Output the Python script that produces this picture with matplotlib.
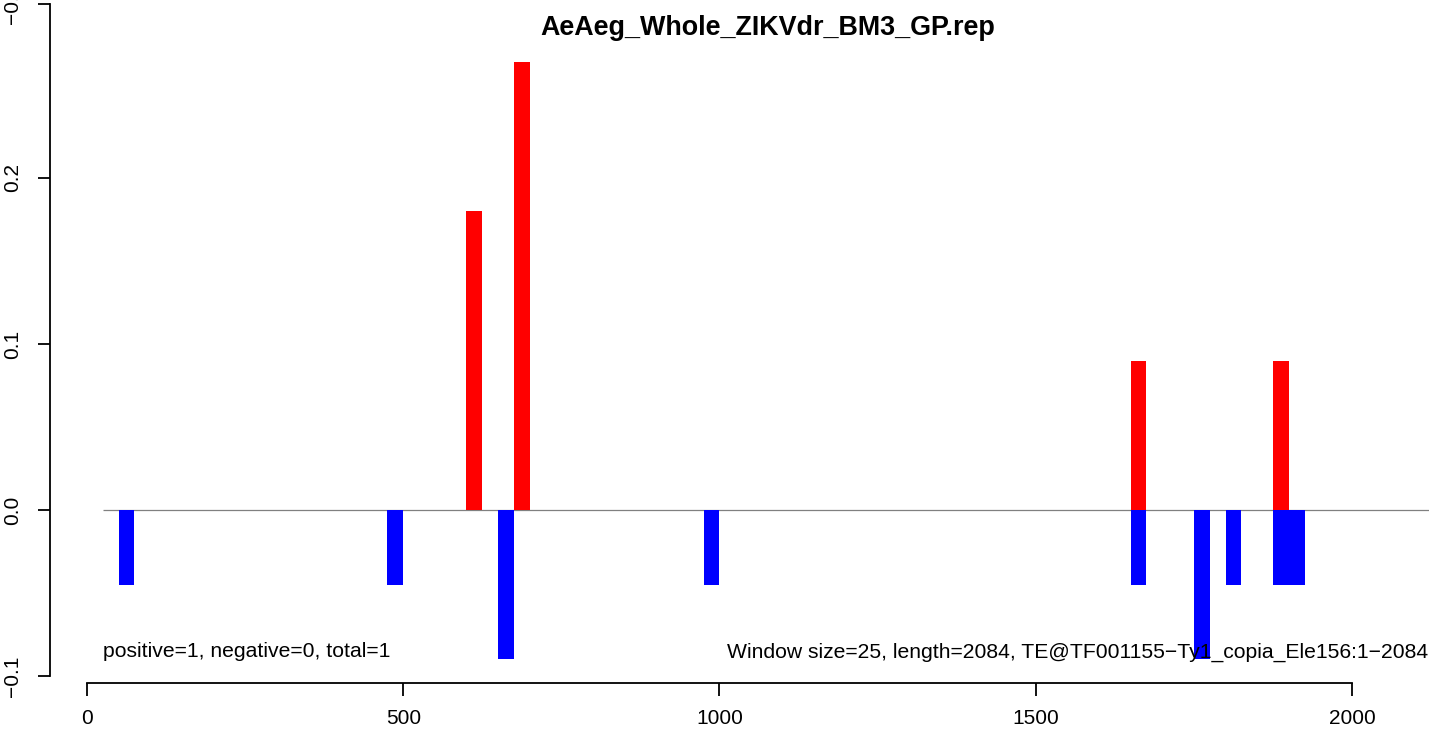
import matplotlib
matplotlib.use("Agg")
import matplotlib.pyplot as plt

plt.rcParams['font.family'] = ['Liberation Sans', 'DejaVu Sans']

title = "AeAeg_Whole_ZIKVdr_BM3_GP.rep"

# window start positions (window size 25) and values
pos_start = [600, 675, 1650, 1875]
pos_val = [0.18, 0.27, 0.09, 0.09]
neg_start = [50, 475, 650, 975, 1650, 1750, 1800, 1875, 1900]
neg_val = [-0.045, -0.045, -0.09, -0.045, -0.045, -0.09, -0.045, -0.045, -0.045]
win = 25

xticks = [0, 500, 1000, 1500, 2000]
yticks = [-0.1, 0.0, 0.1, 0.2, 0.305]
ylabels = ["\u22120.1", "0.0", "0.1", "0.2", "\u22120.3"]

left_note = "positive=1, negative=0, total=1"
right_note = "Window size=25, length=2084, TE@TF001155\u2212Ty1_copia_Ele156:1\u22122084"

fig = plt.figure(figsize=(14.29, 7.31), dpi=100)
ax = fig.add_axes([0, 0, 1, 1])
ax.set_xlim(-137.5, 2121.7)
ax.set_ylim(-0.1331, 0.3072)

ax.hlines(0, 25, 2300, color="#808080", lw=0.9, zorder=1)
ax.bar(pos_start, pos_val, width=win, align="edge", color="red", zorder=2)
ax.bar(neg_start, neg_val, width=win, align="edge", color="blue", zorder=2)

for s in ["top", "right"]:
    ax.spines[s].set_visible(False)
ax.spines["left"].set_position(("data", -58.5))
ax.spines["left"].set_bounds(-0.1, 0.305)
ax.spines["bottom"].set_position(("data", -0.1042))
ax.spines["bottom"].set_bounds(0, 2000)
for s in ["left", "bottom"]:
    ax.spines[s].set_linewidth(1.3)

ax.set_xticks(xticks)
ax.set_xticklabels([str(t) for t in xticks])
ax.set_yticks(yticks)
ax.set_yticklabels(ylabels, rotation=90, va="center")
ax.tick_params(axis="both", direction="out", length=9, width=1.3,
               labelsize=15, colors="black")
ax.tick_params(axis="x", pad=10)
ax.tick_params(axis="y", pad=11)

ax.text(25, -0.0855, left_note, ha="left", va="center", fontsize=15.2)
ax.text(0.9995, -0.0855, right_note, ha="right", va="center", fontsize=15.2,
        transform=ax.get_yaxis_transform())

fig.text(767.5 / 1429, 1 - 28 / 731, title, ha="center", va="center",
         fontsize=19.4, fontweight="bold")

fig.savefig("out.png", dpi=100)
